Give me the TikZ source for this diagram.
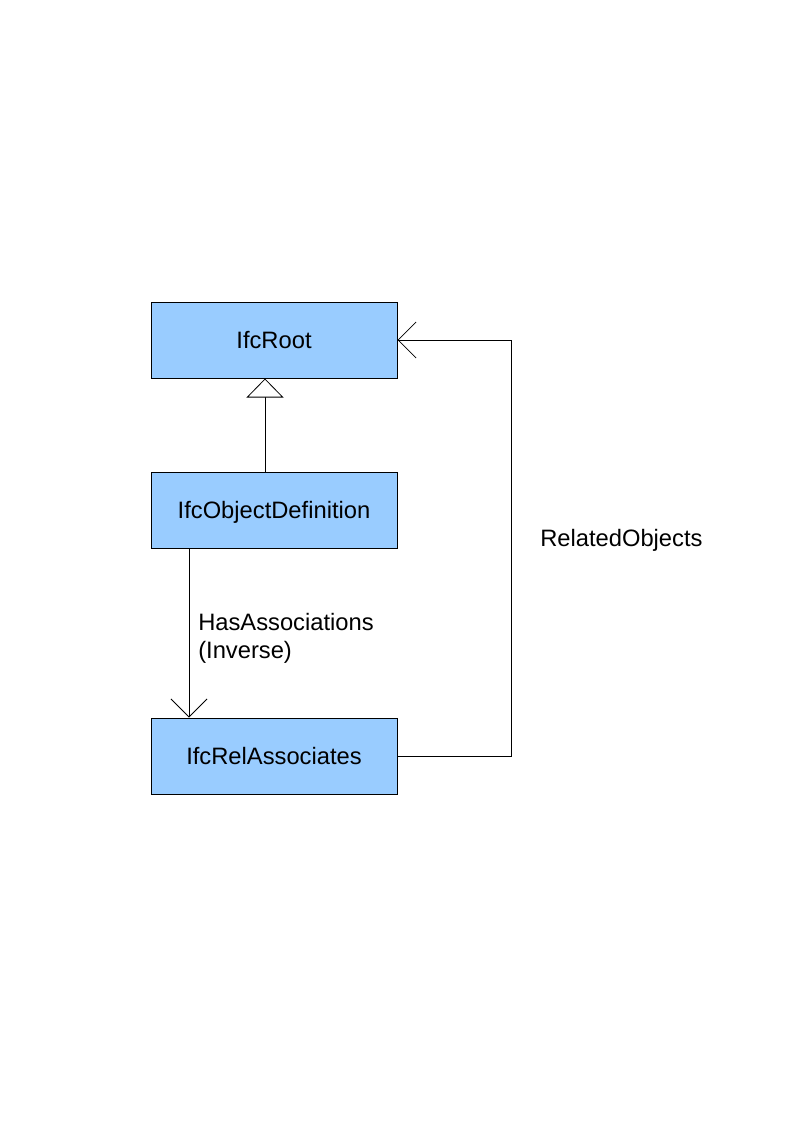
\documentclass[tikz,border=0pt]{standalone}
\usepackage{fontspec}
\setmainfont{Liberation Sans}
\usetikzlibrary{arrows.meta}
\definecolor{boxblue}{HTML}{99CCFF}
\begin{document}
\begin{tikzpicture}[x=0.75pt,y=-0.75pt,
  classbox/.style={draw=black,fill=boxblue,line width=0.75pt,minimum width=184.5pt,minimum height=57pt,inner sep=0pt,text height=15.8pt,text depth=3.4pt,font=\fontsize{17.8}{21}\selectfont},
  lbl/.style={font=\fontsize{17.8}{21}\selectfont,inner sep=0pt,align=left,anchor=west},
  conn/.style={line width=0.75pt},
  assoc/.style={conn,-{Straight Barb[length=13.5pt,width=27pt,line width=0.6pt]}},
  inherit/.style={conn,-{Triangle[open,length=14.25pt,width=27.75pt,line width=0.6pt,fill=white]}}]
  \useasboundingbox (0,0) rectangle (794,1123);

  % classes
  \node[classbox] (root) at (274,340) {IfcRoot};
  \node[classbox] (objdef) at (274,510) {IfcObjectDefinition};
  \node[classbox] (relassoc) at (274,756) {IfcRelAssociates};

  % generalisation
  \draw[inherit] (objdef.north -| 265,0) -- (root.south -| 265,0);

  % inverse attribute HasAssociations
  \draw[assoc] (objdef.south -| 189,0) -- (relassoc.north -| 189,0);
  \node[lbl] (hasassoc) at (198,638) {HasAssociations\\(Inverse)};

  % RelatedObjects back to IfcRoot
  \coordinate (cb) at (511,756);
  \coordinate (ct) at (511,340);
  \draw[assoc] (relassoc.east) -- (cb) -- (ct) -- (root.east);
  \node[lbl] (relobj) at (540,540) {RelatedObjects};
\end{tikzpicture}
\end{document}
